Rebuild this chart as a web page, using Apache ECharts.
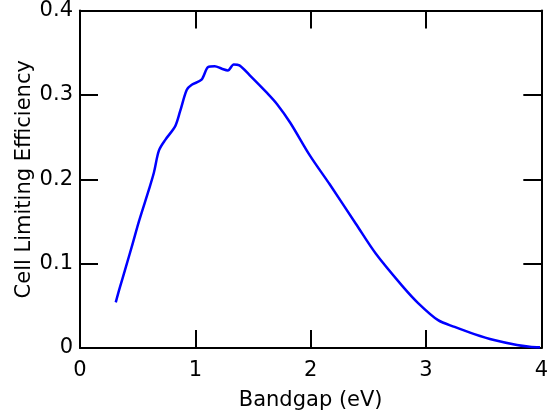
<!DOCTYPE html>
<html><head><meta charset="utf-8">
<script src="https://cdn.jsdelivr.net/npm/echarts@6/dist/echarts.min.js"></script>
<style>html,body{margin:0;padding:0;background:#fff}#c{width:551px;height:419px}</style>
</head><body><div id="c"></div>
<script>
const bandgap = [0.31,0.342,0.40,0.456,0.513,0.598,0.641,0.684,0.741,0.826,0.869,0.926,0.969,1.054,1.111,1.168,1.23,1.282,1.333,1.382,1.481,1.624,1.709,1.823,1.994,2.165,2.393,2.564,2.792,2.934,3.105,3.248,3.419,3.590,3.789,3.90,3.989];
const efficiency = [0.054,0.070,0.097,0.1235,0.151,0.188,0.208,0.234,0.247,0.263,0.281,0.306,0.312,0.318,0.333,0.334,0.331,0.329,0.336,0.335,0.322,0.302,0.289,0.267,0.228,0.194,0.147,0.112,0.074,0.053,0.033,0.025,0.0165,0.0094,0.0035,0.0015,0.0008];
const xTicks = {min:0, max:4, interval:1};
const yTicks = {min:0, max:0.4, interval:0.1};
const xTitle = 'Bandgap (eV)';
const yTitle = 'Cell Limiting Efficiency';

const font = '"DejaVu Sans", Verdana, sans-serif';
const mkLine = () => ({show:true, onZero:false, lineStyle:{color:'#000', width:2}});
const mkTick = () => ({show:true, inside:true, length:18, lineStyle:{color:'#000', width:2}});
const chart = echarts.init(document.getElementById('c'), null, {renderer:'canvas'});
chart.setOption({
  animation:false,
  backgroundColor:'#fff',
  grid:{left:80, right:3, top:9, bottom:71, containLabel:false},
  xAxis:[
    {type:'value', min:xTicks.min, max:xTicks.max, interval:xTicks.interval, position:'bottom',
     name:xTitle, nameLocation:'middle', nameGap:42, nameMoveOverlap:false,
     nameTextStyle:{fontFamily:font, fontSize:21, color:'#000'},
     axisLine:mkLine(), axisTick:mkTick(), splitLine:{show:false},
     axisLabel:{fontFamily:font, fontSize:21, color:'#000', margin:12}},
    {type:'value', min:xTicks.min, max:xTicks.max, interval:xTicks.interval, position:'top',
     axisLine:mkLine(), axisTick:mkTick(), splitLine:{show:false}, axisLabel:{show:false}}
  ],
  yAxis:[
    {type:'value', min:yTicks.min, max:yTicks.max, interval:yTicks.interval, position:'left',
     name:yTitle, nameLocation:'middle', nameGap:45, nameMoveOverlap:false,
     nameTextStyle:{fontFamily:font, fontSize:21, color:'#000'},
     axisLine:mkLine(), axisTick:mkTick(), splitLine:{show:false},
     axisLabel:{fontFamily:font, fontSize:21, color:'#000', margin:7}},
    {type:'value', min:yTicks.min, max:yTicks.max, interval:yTicks.interval, position:'right',
     axisLine:mkLine(), axisTick:mkTick(), splitLine:{show:false}, axisLabel:{show:false}}
  ],
  series:[{
    type:'line', xAxisIndex:0, yAxisIndex:0, data:bandgap.map((b,i)=>[b, efficiency[i]]),
    showSymbol:false, smooth:0.3,
    lineStyle:{color:'#0000ff', width:2.5}
  }]
});
</script></body></html>
